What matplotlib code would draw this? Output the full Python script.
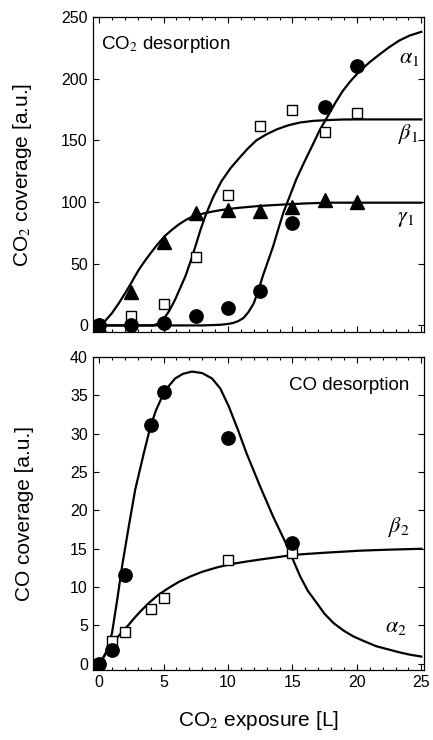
import matplotlib
matplotlib.use('Agg')
import matplotlib.pyplot as plt
from matplotlib.ticker import MultipleLocator

plt.rcParams['font.family'] = ['Liberation Sans', 'DejaVu Sans']
plt.rcParams['mathtext.fontset'] = 'stix'

# top panel: CO2 desorption, measured points
x_top = [0, 2.5, 5, 7.5, 10, 12.5, 15, 17.5, 20]
alpha1 = [0.5, 0, 2, 7.5, 14, 28, 83, 177, 210]
beta1 = [0, 8, 17.6, 55.7, 105.8, 162, 175, 157, 172]
gamma1 = [0, 27, 68, 91.5, 93.6, 93, 96, 101.7, 100]

# top panel fit curves
a1_cx = [0, 5, 8, 9.4, 10.0, 10.4, 10.8, 11.2, 11.6, 12.0, 12.35, 12.7, 13.1, 13.5, 13.9, 14.3, 14.8, 15.3,
         15.9, 16.6, 17.1, 17.65, 18.3, 18.9, 19.5, 20.2, 21.0, 21.8, 22.5, 23.3, 24.1, 25]
a1_cy = [0, 0, 0, 0.5, 1.2, 2, 3.5, 6, 11, 18, 28, 40, 52, 64, 78, 91.5, 105, 118.5,
         132, 147, 158, 168, 180, 190, 198, 206, 213.5, 220, 225.5, 231, 235, 238]
b1_cx = [0, 4.2, 4.6, 5.0, 5.45, 5.9, 6.3, 6.7, 7.1, 7.47, 7.85, 8.24, 8.85, 9.5, 10.2, 10.9, 11.55, 12.2,
         13.0, 13.8, 14.7, 15.6, 16.6, 17.65, 18.8, 20, 25]
b1_cy = [0, 0, 1.5, 5, 12, 21, 30.5, 40, 52, 64, 77, 88.7, 104, 117, 127.5, 136, 143.5, 150,
         155, 159, 162.3, 164.5, 165.8, 166.4, 166.9, 167, 167]
g1_cx = [0, 0.5, 1.0, 1.5, 2.04, 2.55, 3.07, 3.6, 4.1, 4.6, 5.1, 5.65, 6.2, 6.7, 7.2, 7.7, 8.2, 8.85, 9.5,
         10.2, 11, 12.5, 14.3, 16, 17.9, 20, 25]
g1_cy = [0.5, 4, 10, 17.5, 26.5, 35.5, 45, 53, 60, 66.5, 72.5, 77.5, 82, 85.3, 88, 89.7, 91, 92.4, 93.6,
         94.6, 95.5, 96.9, 98, 98.9, 99.5, 99.5, 99.5]

# bottom panel: CO desorption, measured points
x_bot = [0, 1, 2, 4, 5, 10, 15]
alpha2 = [0, 1.8, 11.6, 31.1, 35.5, 29.5, 15.7]
beta2 = [0, 3.0, 4.2, 7.1, 8.6, 13.5, 14.4]

# bottom panel fit curves
a2_cx = [0, 0.3, 0.62, 1.0, 1.4, 1.78, 2.3, 2.8, 3.46, 3.98, 4.4, 4.88, 5.4, 5.9, 6.5, 7.2, 8.0, 8.76, 9.4,
         10.05, 10.75, 11.45, 12.5, 13.5, 14.55, 15.6, 16.2, 16.9, 17.5, 18.2, 19.0, 19.7, 20.5, 21.5, 22.4,
         23.3, 24.1, 25]
a2_cy = [0, 0.7, 1.8, 4.0, 8.3, 12.7, 17.9, 22.7, 27.4, 30.9, 33.0, 34.8, 36.2, 37.2, 37.8, 38.1, 37.9, 37.2, 35.9,
         33.6, 30.6, 27.4, 23.1, 19.2, 15.5, 11.4, 9.5, 7.9, 6.5, 5.3, 4.3, 3.6, 3.0, 2.3, 1.9,
         1.5, 1.2, 0.95]
b2_cx = [0, 0.35, 0.7, 1.1, 1.5, 1.9, 2.3, 2.8, 3.3, 3.9, 4.6, 5.4, 6.2, 7.1, 8.0, 9.1, 10.2, 11.3, 12.5,
         13.8, 15.06, 16.3, 17.65, 18.9, 20.2, 21.5, 22.8, 23.9, 25]
b2_cy = [0, 0.9, 1.8, 2.8, 3.6, 4.4, 5.1, 6.1, 7.0, 8.0, 9.0, 9.9, 10.7, 11.4, 12.0, 12.55, 13.0, 13.3, 13.6,
         13.9, 14.2, 14.35, 14.5, 14.62, 14.75, 14.83, 14.9, 14.95, 15.0]

fig = plt.figure(figsize=(4.33, 7.40), dpi=100)
ax1 = fig.add_axes([0.214, 0.5514, 0.765, 0.4256])
ax2 = fig.add_axes([0.214, 0.0946, 0.765, 0.423])

lw = 1.6
sq = dict(marker='s', ms=7.2, mfc='white', mec='black', mew=1.0, ls='none')
ci = dict(marker='o', ms=9.6, color='black', ls='none')
tr = dict(marker='^', ms=9.5, color='black', ls='none')

ax1.plot(a1_cx, a1_cy, color='black', lw=lw)
ax1.plot(b1_cx, b1_cy, color='black', lw=lw)
ax1.plot(g1_cx, g1_cy, color='black', lw=lw)
ax1.plot(x_top, beta1, **sq)
ax1.plot(x_top, gamma1, **tr)
ax1.plot(x_top, alpha1, **ci)

ax1.set_xlim(-0.5, 25.2)
ax1.set_ylim(-5.3, 250)
ax1.set_yticks([0, 50, 100, 150, 200, 250])
ax1.set_ylabel('CO$_2$ coverage [a.u.]', fontsize=15)
ax1.text(0.15, 228, 'CO$_2$ desorption', fontsize=13.5, va='center')
ax1.text(23.3, 217, r'$\alpha_{\mathit{1}}$', fontsize=16, va='center')
ax1.text(23.2, 155, r'$\beta_{\mathit{1}}$', fontsize=16, va='center')
ax1.text(23.1, 87, r'$\gamma_{\mathit{1}}$', fontsize=16, va='center')
ax1.tick_params(labelbottom=False)

ax2.plot(a2_cx, a2_cy, color='black', lw=lw)
ax2.plot(b2_cx, b2_cy, color='black', lw=lw)
ax2.plot(x_bot, beta2, **sq)
ax2.plot(x_bot, alpha2, **ci)

ax2.set_xlim(-0.5, 25.2)
ax2.set_ylim(-0.8, 40)
ax2.set_yticks(range(0, 41, 5))
ax2.set_xticks(range(0, 26, 5))
ax2.set_ylabel('CO coverage [a.u.]', fontsize=15)
ax2.set_xlabel('CO$_2$ exposure [L]', fontsize=15, labelpad=14)
ax2.text(24.1, 36.3, 'CO desorption', fontsize=13.5, va='center', ha='right')
ax2.text(22.4, 17.9, r'$\beta_{\mathit{2}}$', fontsize=16, va='center')
ax2.text(22.2, 4.9, r'$\alpha_{\mathit{2}}$', fontsize=16, va='center')

for ax in (ax1, ax2):
    ax.yaxis.set_label_coords(-0.178, 0.5)
    ax.xaxis.set_minor_locator(MultipleLocator(1))
    ax.tick_params(which='both', direction='in', top=True, right=True, labelsize=11.5)
    ax.tick_params(which='major', length=4, width=0.8)
    ax.tick_params(which='minor', length=2.5, width=0.8)
    ax.tick_params(axis='y', which='minor', left=False, right=False)
    for s in ax.spines.values():
        s.set_linewidth(0.9)

fig.savefig('out.png', dpi=100)
